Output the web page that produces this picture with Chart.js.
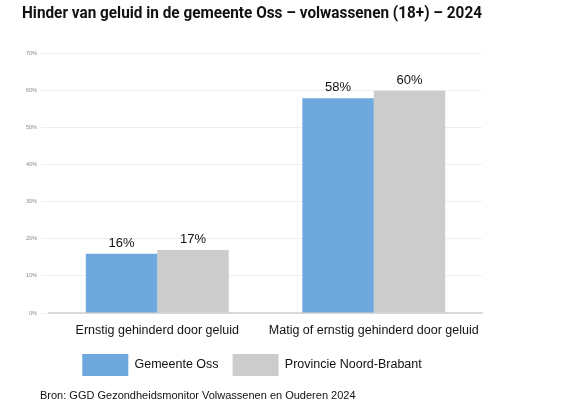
<!DOCTYPE html>
<html><head><meta charset="utf-8">
<script src="https://cdn.jsdelivr.net/npm/chart.js@4"></script>
<style>html,body{margin:0;padding:0;background:#fff}#w{width:576px;height:418px}</style>
</head><body><div id="w"><canvas id="c"></canvas></div>
<script>
const categories = ["Ernstig gehinderd door geluid", "Matig of ernstig gehinderd door geluid"];
const seriesNames = ["Gemeente Oss", "Provincie Noord-Brabant"];
const ossValues = [16, 58];
const brabantValues = [17, 60];
const yTicks = [0, 10, 20, 30, 40, 50, 60, 70];
const sourceText = 'Bron: GGD Gezondheidsmonitor Volwassenen en Ouderen 2024';

const labelPlugin = {
  id: 'labels',
  afterDatasetsDraw(chart) {
    const ctx = chart.ctx;
    ctx.save();
    ctx.font = '13px "Liberation Sans", Arial, sans-serif';
    ctx.fillStyle = '#111';
    ctx.textAlign = 'center';
    ctx.textBaseline = 'bottom';
    chart.data.datasets.forEach((ds, i) => {
      chart.getDatasetMeta(i).data.forEach((bar, j) => {
        ctx.fillText(ds.data[j] + '%', bar.x, bar.y - 4);
      });
    });
    ctx.restore();
  },
  afterDraw(chart) {
    const ctx = chart.ctx;
    ctx.save();
    ctx.font = '11px "Liberation Sans", Arial, sans-serif';
    ctx.fillStyle = '#111';
    ctx.textBaseline = 'middle';
    ctx.fillText(sourceText, 40, 396);
    ctx.restore();
  }
};

new Chart(document.getElementById('c'), {
  type: 'bar',
  data: {
    labels: categories,
    datasets: [
      { label: seriesNames[0], data: ossValues, backgroundColor: '#6fa8dc' },
      { label: seriesNames[1], data: brabantValues, backgroundColor: '#cccccc' }
    ]
  },
  options: {
    responsive: true, maintainAspectRatio: false, animation: false,
    layout: { padding: { left: 22, right: 94, top: 0, bottom: 32 } },
    datasets: { bar: { categoryPercentage: 0.66, barPercentage: 1 } },
    scales: {
      x: {
        grid: { display: false },
        border: { color: '#d9d9d9', width: 2 },
        ticks: { color: '#111', font: { size: 12.5, family: '"Liberation Sans", Arial, sans-serif' }, padding: 2 }
      },
      y: {
        min: 0, max: 70,
        afterBuildTicks(ax) { ax.ticks = yTicks.map(v => ({ value: v })); },
        grid: { color: '#eeeeee' },
        border: { display: false },
        ticks: { color: '#888', font: { size: 5.5 }, callback: v => v + '%', padding: 4 }
      }
    },
    plugins: {
      title: { display: true, text: 'Hinder van geluid in de gemeente Oss – volwassenen (18+) – 2024',
        align: 'start', color: '#111', font: { size: 16.5, weight: 'bold', family: 'Roboto, "DejaVu Sans", sans-serif' },
        padding: { top: 4, bottom: 30 } },
      legend: { position: 'bottom', labels: { boxWidth: 46, boxHeight: 22, padding: 14, color: '#111',
        font: { size: 12.5, family: '"Liberation Sans", Arial, sans-serif' } } },
      tooltip: { enabled: false }
    }
  },
  plugins: [labelPlugin]
});
</script></body></html>
